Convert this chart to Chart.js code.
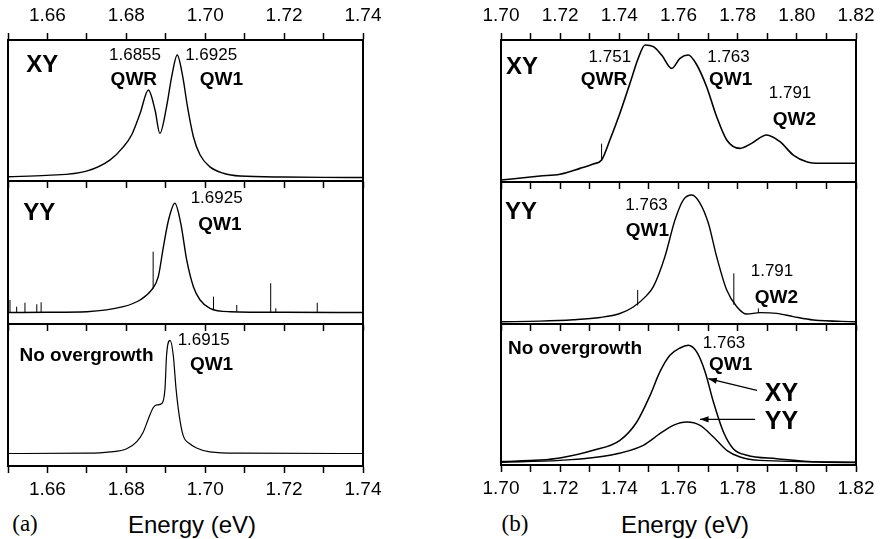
<!DOCTYPE html>
<html lang="en">
<head>
    <meta charset="UTF-8">
    <title>PL spectra: XY / YY / No overgrowth</title>
    <script src="https://cdn.jsdelivr.net/npm/chart.js@4.4.1/dist/chart.umd.min.js"></script>
    <style>
        body { margin: 0; width: 880px; height: 539px; background: #fff; position: relative; overflow: hidden; }
        canvas { position: absolute; }
        .txt { position: absolute; transform: translate(-50%, -50%); line-height: 1; white-space: nowrap; color: #000; }
        .tag { font-family: "Liberation Serif", "Times New Roman", serif; font-size: 23px; }
        .xt { font-family: "Liberation Sans", Arial, sans-serif; font-size: 24px; }
    </style>
</head>
<body>
    <div class="txt tag" style="left:25px; top:523px;">(a)</div>
    <div class="txt xt" style="left:192px; top:525px;">Energy (eV)</div>
    <div class="txt tag" style="left:515px; top:523px;">(b)</div>
    <div class="txt xt" style="left:685px; top:525px;">Energy (eV)</div>

    <script>
        // ---- panel (a) data : energy (eV) and normalised intensity ----
        const aXYe = [1.650, 1.6598, 1.6699, 1.6759, 1.6792, 1.6814, 1.6835, 1.6856, 1.6873, 1.6885, 1.6902, 1.6915, 1.6929, 1.6943, 1.6955, 1.6970, 1.6987, 1.7012, 1.7046, 1.7088, 1.720, 1.730, 1.740];
        const aXYv = [0.030, 0.040, 0.070, 0.150, 0.240, 0.330, 0.480, 0.645, 0.500, 0.338, 0.527, 0.740, 0.894, 0.740, 0.527, 0.314, 0.184, 0.100, 0.055, 0.035, 0.028, 0.026, 0.025];

        const aYYe = [1.650, 1.660, 1.670, 1.6792, 1.6835, 1.6864, 1.6881, 1.6894, 1.6907, 1.6923, 1.6938, 1.6953, 1.6970, 1.6987, 1.7012, 1.7063, 1.720, 1.740];
        const aYYv = [0.080, 0.082, 0.086, 0.121, 0.168, 0.238, 0.331, 0.540, 0.727, 0.844, 0.704, 0.448, 0.261, 0.168, 0.110, 0.086, 0.082, 0.080];
        // spikes: [energy, base, top]
        const aYYspikes = [[1.6505, 0.082, 0.168], [1.6522, 0.082, 0.121], [1.6543, 0.082, 0.149], [1.6573, 0.082, 0.138], [1.6584, 0.082, 0.152],
                           [1.6868, 0.250, 0.506], [1.7021, 0.105, 0.191], [1.7080, 0.086, 0.133], [1.7166, 0.082, 0.285], [1.7179, 0.082, 0.110], [1.7284, 0.081, 0.149]];

        const aNOe = [1.650, 1.670, 1.6759, 1.6801, 1.6826, 1.6843, 1.6856, 1.6868, 1.6877, 1.6890, 1.6898, 1.6902, 1.6911, 1.6919, 1.6926, 1.6934, 1.6944, 1.6961, 1.6978, 1.7012, 1.7088, 1.740];
        const aNOv = [0.088, 0.090, 0.099, 0.122, 0.170, 0.240, 0.333, 0.410, 0.430, 0.440, 0.545, 0.780, 0.885, 0.780, 0.545, 0.357, 0.216, 0.157, 0.127, 0.099, 0.090, 0.088];

        // ---- panel (b) data ----
        const bXYe = [1.700, 1.7132, 1.7199, 1.7267, 1.7312, 1.7340, 1.7368, 1.7402, 1.7436, 1.7464, 1.7487, 1.7515, 1.7543, 1.7577, 1.7605, 1.7633, 1.7662, 1.7695, 1.7729, 1.7763, 1.7808, 1.7847, 1.7898, 1.7943, 1.7988, 1.8033, 1.8078, 1.820];
        const bXYv = [0.014, 0.042, 0.055, 0.096, 0.127, 0.155, 0.296, 0.484, 0.695, 0.871, 0.965, 0.953, 0.894, 0.800, 0.871, 0.894, 0.824, 0.671, 0.460, 0.296, 0.237, 0.272, 0.331, 0.284, 0.190, 0.143, 0.132, 0.132];
        const bXYspikes = [[1.7340, 0.150, 0.270]];

        const bYYe = [1.700, 1.7132, 1.7245, 1.7335, 1.7402, 1.7447, 1.7492, 1.7515, 1.7554, 1.7588, 1.7616, 1.7645, 1.7673, 1.7701, 1.7729, 1.7763, 1.7797, 1.7831, 1.7875, 1.7932, 1.7988, 1.8056, 1.820];
        const bYYv = [0.016, 0.020, 0.030, 0.046, 0.074, 0.120, 0.200, 0.263, 0.474, 0.732, 0.873, 0.908, 0.850, 0.709, 0.474, 0.239, 0.122, 0.070, 0.080, 0.075, 0.052, 0.028, 0.016];
        const bYYspikes = [[1.7462, 0.130, 0.240], [1.7787, 0.135, 0.357], [1.7870, 0.078, 0.110]];

        const bNXe = [1.700, 1.7132, 1.7199, 1.7312, 1.7402, 1.7459, 1.7504, 1.7537, 1.7571, 1.7605, 1.7633, 1.7662, 1.7690, 1.7718, 1.7752, 1.7785, 1.7831, 1.7932, 1.8078, 1.820];
        const bNXv = [0.024, 0.035, 0.050, 0.104, 0.175, 0.305, 0.494, 0.660, 0.778, 0.830, 0.849, 0.800, 0.660, 0.447, 0.234, 0.116, 0.069, 0.045, 0.021, 0.018];
        const bNYe = [1.700, 1.7199, 1.7368, 1.7481, 1.7537, 1.7582, 1.7628, 1.7673, 1.7718, 1.7763, 1.7808, 1.7875, 1.820];
        const bNYv = [0.020, 0.033, 0.069, 0.140, 0.222, 0.281, 0.305, 0.281, 0.199, 0.104, 0.057, 0.033, 0.020];

        const rangeA = [1.65, 1.74];
        const rangeB = [1.70, 1.82];

        const FONT = '"Liberation Sans", Arial, Helvetica, sans-serif';
        const fNum = '17px ' + FONT;
        const fQW = 'bold 19px ' + FONT;
        const fBig = 'bold 24px ' + FONT;

        function isMajor(v) { return Math.abs(v * 50 - Math.round(v * 50)) < 1e-6; }

        function xAxis(pos, range, labels, pad) {
            return {
                type: 'linear', position: pos, min: range[0], max: range[1],
                ticks: {
                    stepSize: 0.01, autoSkip: false, maxRotation: 0, minRotation: 0,
                    display: labels, padding: pad, color: '#000',
                    font: { family: FONT, size: 19, lineHeight: 1 },
                    callback: v => isMajor(v) ? v.toFixed(2) : ''
                },
                grid: { display: true, drawOnChartArea: false, drawTicks: true, tickLength: 7, tickWidth: 1.5, tickColor: '#000' },
                border: { display: true, color: '#000', width: 2 }
            };
        }

        function curve(e, v, w) {
            return {
                data: e.map((x, i) => ({ x: x, y: v[i] })),
                borderColor: '#000', borderWidth: w || 1.4, pointRadius: 0,
                cubicInterpolationMode: 'monotone', fill: false
            };
        }

        function spikes(list) {
            const d = [];
            list.forEach(([x, b, t]) => { d.push({ x: x, y: b }, { x: x, y: t }, { x: x, y: null }); });
            return { data: d, borderColor: '#000', borderWidth: 1, pointRadius: 0, spanGaps: false, tension: 0 };
        }

        // box frame around each sub-plot
        const framePlugin = {
            id: 'frame',
            afterDatasetsDraw(chart) {
                const { ctx, chartArea: a } = chart;
                ctx.save();
                ctx.lineWidth = 2;
                ctx.strokeStyle = '#000';
                ctx.strokeRect(a.left, a.top, a.right - a.left, a.bottom - a.top);
                ctx.restore();
            }
        };

        // text labels and arrows, placed in data coordinates
        function notesPlugin(notes) {
            return {
                id: 'notes',
                afterDraw(chart) {
                    const { ctx, scales } = chart;
                    const px = v => scales.x.getPixelForValue(v);
                    const py = v => scales.y.getPixelForValue(v);
                    ctx.save();
                    ctx.fillStyle = '#000';
                    ctx.strokeStyle = '#000';
                    notes.forEach(n => {
                        if (n.arrow) {
                            const x0 = px(n.arrow[0]), y0 = py(n.arrow[1]), x1 = px(n.arrow[2]), y1 = py(n.arrow[3]);
                            const ang = Math.atan2(y1 - y0, x1 - x0);
                            ctx.lineWidth = 1.3;
                            ctx.beginPath(); ctx.moveTo(x0, y0); ctx.lineTo(x1, y1); ctx.stroke();
                            ctx.beginPath();
                            ctx.moveTo(x1, y1);
                            ctx.lineTo(x1 - 9 * Math.cos(ang - 0.35), y1 - 9 * Math.sin(ang - 0.35));
                            ctx.lineTo(x1 - 9 * Math.cos(ang + 0.35), y1 - 9 * Math.sin(ang + 0.35));
                            ctx.closePath(); ctx.fill();
                            return;
                        }
                        ctx.font = n.f;
                        ctx.textAlign = 'center';
                        ctx.textBaseline = 'middle';
                        ctx.fillText(n.t, px(n.x), py(n.y));
                    });
                    ctx.restore();
                }
            };
        }

        function subplot(box, range, datasets, notes, axes) {
            const tl = 7, fs = 19, side = 30, pad = 4;
            const topH = axes.top ? tl + fs + 2 * 8 : 0;
            const botH = tl + (axes.bottom ? fs + 2 * 7 : 0);
            const cv = document.createElement('canvas');
            const w = box.r - box.l + 2 * side;
            const h = box.b - box.t + topH + botH + 2 * pad;
            cv.width = w; cv.height = h;
            cv.style.width = w + 'px'; cv.style.height = h + 'px';
            cv.style.left = (box.l - side) + 'px';
            cv.style.top = (box.t - topH - pad) + 'px';
            document.body.appendChild(cv);

            const scales = {
                x: xAxis('bottom', range, axes.bottom, 7),
                y: { type: 'linear', min: 0, max: 1, display: false }
            };
            if (axes.top) scales.xTop = xAxis('top', range, true, 8);

            new Chart(cv, {
                type: 'line',
                data: { datasets: datasets },
                options: {
                    responsive: false,
                    animation: false,
                    layout: { padding: { left: side, right: side, top: pad, bottom: pad } },
                    plugins: { legend: { display: false }, tooltip: { enabled: false } },
                    scales: scales
                },
                plugins: [framePlugin, notesPlugin(notes)]
            });
        }

        // ---- panel (a) ----
        subplot({ l: 8, r: 363, t: 40, b: 181 }, rangeA, [curve(aXYe, aXYv)], [
            { t: 'XY', x: 1.6587, y: 0.82, f: fBig },
            { t: '1.6855', x: 1.6822, y: 0.894, f: fNum },
            { t: '1.6925', x: 1.7015, y: 0.894, f: fNum },
            { t: 'QWR', x: 1.6819, y: 0.716, f: fQW },
            { t: 'QW1', x: 1.7041, y: 0.716, f: fQW }
        ], { top: true, bottom: false });

        subplot({ l: 8, r: 363, t: 181, b: 324 }, rangeA, [curve(aYYe, aYYv), spikes(aYYspikes)], [
            { t: 'YY', x: 1.6579, y: 0.776, f: fBig },
            { t: '1.6925', x: 1.7029, y: 0.878, f: fNum },
            { t: 'QW1', x: 1.7037, y: 0.696, f: fQW }
        ], { top: false, bottom: false });

        subplot({ l: 8, r: 363, t: 324, b: 466 }, rangeA, [curve(aNOe, aNOv, 1.2)], [
            { t: 'No overgrowth', x: 1.6699, y: 0.775, f: fQW },
            { t: '1.6915', x: 1.6996, y: 0.887, f: fNum },
            { t: 'QW1', x: 1.7016, y: 0.715, f: fQW }
        ], { top: false, bottom: true });

        // ---- panel (b) ----
        subplot({ l: 501, r: 856, t: 40, b: 182 }, rangeB, [curve(bXYe, bXYv, 1.6), spikes(bXYspikes)], [
            { t: 'XY', x: 1.7071, y: 0.806, f: fBig },
            { t: '1.751', x: 1.7368, y: 0.877, f: fNum },
            { t: 'QWR', x: 1.7348, y: 0.722, f: fQW },
            { t: '1.763', x: 1.7769, y: 0.877, f: fNum },
            { t: 'QW1', x: 1.7776, y: 0.718, f: fQW },
            { t: '1.791', x: 1.7977, y: 0.623, f: fNum },
            { t: 'QW2', x: 1.7992, y: 0.44, f: fQW }
        ], { top: true, bottom: false });

        subplot({ l: 501, r: 856, t: 182, b: 324 }, rangeB, [curve(bYYe, bYYv), spikes(bYYspikes)], [
            { t: 'YY', x: 1.7068, y: 0.785, f: fBig },
            { t: '1.763', x: 1.7492, y: 0.838, f: fNum },
            { t: 'QW1', x: 1.7495, y: 0.658, f: fQW },
            { t: '1.791', x: 1.7916, y: 0.37, f: fNum },
            { t: 'QW2', x: 1.7931, y: 0.187, f: fQW }
        ], { top: false, bottom: false });

        subplot({ l: 501, r: 856, t: 324, b: 465 }, rangeB, [curve(bNXe, bNXv, 1.5), curve(bNYe, bNYv, 1.4)], [
            { t: 'No overgrowth', x: 1.725, y: 0.823, f: fQW },
            { t: '1.763', x: 1.7754, y: 0.862, f: fNum },
            { t: 'QW1', x: 1.7776, y: 0.713, f: fQW },
            { t: 'XY', x: 1.7948, y: 0.504, f: 'bold 25px ' + FONT },
            { t: 'YY', x: 1.7948, y: 0.301, f: 'bold 25px ' + FONT },
            { arrow: [1.7865, 0.53, 1.7701, 0.612] },
            { arrow: [1.7859, 0.324, 1.7673, 0.324] }
        ], { top: false, bottom: true });
    </script>
</body>
</html>
